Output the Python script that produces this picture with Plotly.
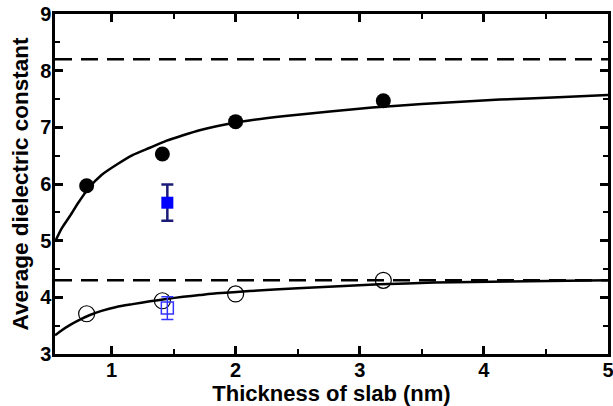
import plotly.graph_objects as go

# Data
thick_pts = [0.8, 1.41, 2.0, 3.19]
eps_filled = [5.97, 6.53, 7.10, 7.47]
eps_open = [3.71, 3.94, 4.06, 4.30]

sq_x = [1.45]
sq_filled = [5.67]
sq_filled_err = [0.32]
sq_open = [3.81]
sq_open_err = [0.20]

curve_x = [0.545, 0.60, 0.664, 0.73, 0.817, 0.92, 1.04, 1.17, 1.31, 1.44, 1.577, 1.71, 1.846, 2.11, 2.4, 2.76, 3.1, 3.5, 4.13, 4.6, 5.0]
curve_hi = [4.98, 5.22, 5.43, 5.66, 5.93, 6.16, 6.34, 6.51, 6.64, 6.76, 6.86, 6.95, 7.02, 7.12, 7.20, 7.28, 7.35, 7.41, 7.49, 7.53, 7.57]
curve_lo_x = [0.545, 0.60, 0.664, 0.73, 0.817, 0.92, 1.04, 1.17, 1.31, 1.44, 1.577, 1.71, 1.846, 2.11, 2.5, 3.16, 3.6, 4.2, 5.0]
curve_lo = [3.33, 3.42, 3.51, 3.59, 3.68, 3.76, 3.83, 3.88, 3.93, 3.97, 4.01, 4.04, 4.07, 4.11, 4.16, 4.23, 4.26, 4.28, 4.30]

bulk_hi = 8.2
bulk_lo = 4.3
x_range = [0.545, 5.0]
y_range = [3, 9]

FONT = "Liberation Sans, Arial, sans-serif"

fig = go.Figure()
for yb in [bulk_hi, bulk_lo]:
    fig.add_trace(go.Scatter(x=x_range, y=[yb, yb], mode="lines",
                             line=dict(color="black", width=2.5, dash="17px,9px"),
                             showlegend=False, hoverinfo="skip"))
fig.add_trace(go.Scatter(x=curve_x, y=curve_hi, mode="lines", line_shape="spline",
                         line=dict(color="black", width=2.5, smoothing=0.6), showlegend=False))
fig.add_trace(go.Scatter(x=curve_lo_x, y=curve_lo, mode="lines", line_shape="spline",
                         line=dict(color="black", width=2.5, smoothing=0.6), showlegend=False))
fig.add_trace(go.Scatter(x=thick_pts, y=eps_filled, mode="markers",
                         marker=dict(symbol="circle", size=15, color="black"),
                         showlegend=False))
fig.add_trace(go.Scatter(x=thick_pts, y=eps_open, mode="markers",
                         marker=dict(symbol="circle-open", size=16, color="black",
                                     line=dict(width=1.2)),
                         showlegend=False))
fig.add_trace(go.Scatter(x=sq_x, y=sq_filled, mode="markers",
                         marker=dict(symbol="square", size=12, color="#0000ff"),
                         error_y=dict(type="data", array=sq_filled_err, color="#1c1c78",
                                      thickness=2.5, width=6),
                         showlegend=False))
fig.add_trace(go.Scatter(x=sq_x, y=sq_open, mode="markers",
                         marker=dict(symbol="square-open", size=12, color="#3333ff",
                                     line=dict(width=1.5)),
                         error_y=dict(type="data", array=sq_open_err, color="#3333ff",
                                      thickness=1.5, width=6),
                         showlegend=False))

axis_common = dict(showline=True, linewidth=2.5, linecolor="black", mirror="allticks",
                   ticks="inside", ticklen=8, tickwidth=2.5, tickcolor="black",
                   showgrid=False, zeroline=False, automargin=False,
                   ticklabeloverflow="allow",
                   tickfont=dict(family=FONT, size=20, color="black", weight="bold"))

fig.update_xaxes(range=x_range, tick0=1, dtick=1, ticklabelstandoff=-4,
                 minor=dict(ticks="inside", ticklen=5, tickwidth=2, tickcolor="black", dtick=0.5, tick0=0.5),
                 title=dict(text="Thickness of slab (nm)", standoff=0,
                            font=dict(family=FONT, size=22, color="black", weight="bold")),
                 **axis_common)
fig.update_yaxes(range=y_range, dtick=1, ticklabelstandoff=-3,
                 minor=dict(ticks="inside", ticklen=5, tickwidth=2, tickcolor="black", dtick=0.5),
                 title=dict(text="Average dielectric constant", standoff=6,
                            font=dict(family=FONT, size=22.5, color="black", weight="bold")),
                 **axis_common)

fig.update_layout(width=613, height=406, margin=dict(l=55, r=5, t=14, b=52),
                  plot_bgcolor="white", paper_bgcolor="white")

# remove the default page margin so the figure fills the window exactly
fig.write_html("out.html", config={"displayModeBar": False},
               post_script="document.body.style.margin='0';")
